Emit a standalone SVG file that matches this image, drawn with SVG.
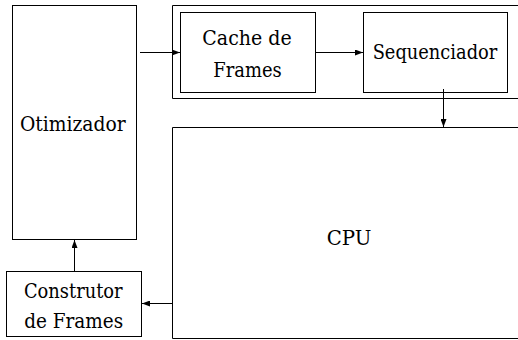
<svg xmlns="http://www.w3.org/2000/svg" width="518" height="340" viewBox="0 0 518 340">
<style>
.b{fill:none;stroke:#000;stroke-width:1}
.t{font-family:'DejaVu Serif','Liberation Serif',serif;font-size:21px;fill:#000;text-anchor:middle}
.c{stroke:#000;stroke-width:1;fill:none;marker-end:url(#ah)}
</style>
<defs>
<marker id="ah" viewBox="0 0 8 6" refX="8" refY="3" markerWidth="8" markerHeight="6" markerUnits="userSpaceOnUse" orient="auto">
<path d="M0,0 L8,3 L0,6 Z" fill="#000"/>
</marker>
</defs>
<rect width="518" height="340" fill="#fff"/>
<g id="otimizador"><rect class="b" x="12.5" y="5.5" width="124" height="234"/><text class="t" x="72.8" y="131" textLength="105.7" lengthAdjust="spacingAndGlyphs">Otimizador</text></g>
<g id="grupo"><path class="b" d="M520,5.5 H172.5 V98.5 H520"/></g>
<g id="cache"><rect class="b" x="180.5" y="12.5" width="135" height="80"/><text class="t" x="247" y="45" textLength="89.4" lengthAdjust="spacingAndGlyphs">Cache de</text><text class="t" x="247.5" y="76.5" textLength="68.4" lengthAdjust="spacingAndGlyphs">Frames</text></g>
<g id="sequenciador"><rect class="b" x="363.5" y="12.5" width="144" height="80"/><text class="t" x="435" y="58.5" textLength="124.7" lengthAdjust="spacingAndGlyphs">Sequenciador</text></g>
<g id="cpu"><path class="b" d="M520,127.5 H172.5 V338.5 H520"/><text class="t" x="349" y="245" textLength="44.7" lengthAdjust="spacingAndGlyphs">CPU</text></g>
<g id="construtor"><rect class="b" x="6.5" y="271.5" width="135" height="65"/><text class="t" x="73.3" y="298" textLength="98.7" lengthAdjust="spacingAndGlyphs">Construtor</text><text class="t" x="73.7" y="327.5" textLength="99" lengthAdjust="spacingAndGlyphs">de Frames</text></g>
<g id="connectors">
<line class="c" x1="140" y1="52.5" x2="180" y2="52.5"/>
<line class="c" x1="316" y1="52.5" x2="363" y2="52.5"/>
<line class="c" x1="443.5" y1="89" x2="443.5" y2="127"/>
<line class="c" x1="172" y1="303.5" x2="142" y2="303.5"/>
<line class="c" x1="74.5" y1="271" x2="74.5" y2="240"/>
</g>
</svg>
